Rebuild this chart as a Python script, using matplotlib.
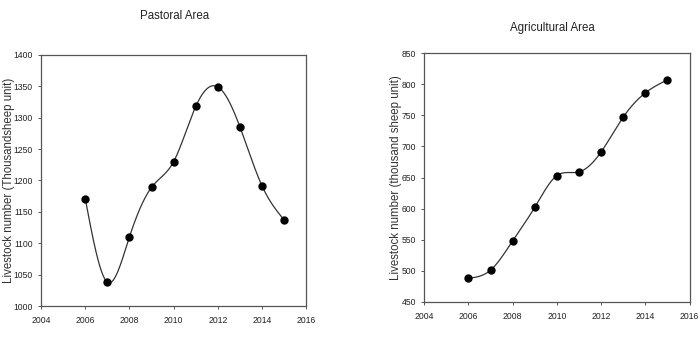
import numpy as np
import matplotlib
matplotlib.use("Agg")
import matplotlib.pyplot as plt

plt.rcParams['font.family'] = ['Liberation Sans', 'DejaVu Sans']

years = [2006, 2007, 2008, 2009, 2010, 2011, 2012, 2013, 2014, 2015]
pastoral = [1171, 1038, 1110, 1189, 1230, 1318, 1349, 1285, 1191, 1137]
agricultural = [488, 501, 548, 602, 653, 659, 691, 747, 786, 807]
x_ticks = [2004, 2006, 2008, 2010, 2012, 2014, 2016]
pastoral_yticks = [1000, 1050, 1100, 1150, 1200, 1250, 1300, 1350, 1400]
agri_yticks = [450, 500, 550, 600, 650, 700, 750, 800, 850]


def natural_spline(x, y, n=400):
    x = np.asarray(x, float)
    y = np.asarray(y, float)
    m = len(x)
    h = np.diff(x)
    A = np.zeros((m, m))
    b = np.zeros(m)
    A[0, 0] = 1
    A[-1, -1] = 1
    for i in range(1, m - 1):
        A[i, i - 1] = h[i - 1]
        A[i, i] = 2 * (h[i - 1] + h[i])
        A[i, i + 1] = h[i]
        b[i] = 6 * ((y[i + 1] - y[i]) / h[i] - (y[i] - y[i - 1]) / h[i - 1])
    M = np.linalg.solve(A, b)
    xs = np.linspace(x[0], x[-1], n)
    idx = np.clip(np.searchsorted(x, xs) - 1, 0, m - 2)
    x0, x1 = x[idx], x[idx + 1]
    hh = x1 - x0
    t0 = x1 - xs
    t1 = xs - x0
    ys = (M[idx] * t0 ** 3 + M[idx + 1] * t1 ** 3) / (6 * hh) \
        + (y[idx] / hh - M[idx] * hh / 6) * t0 \
        + (y[idx + 1] / hh - M[idx + 1] * hh / 6) * t1
    return xs, ys


fig = plt.figure(figsize=(7, 3.45), dpi=100)
ax1 = fig.add_axes([0.0586, 0.113, 0.379, 0.728])
ax2 = fig.add_axes([0.606, 0.125, 0.379, 0.721])

specs = [
    (ax1, pastoral, pastoral_yticks, 'Livestock number (Thousandsheep unit)', -0.098),
    (ax2, agricultural, agri_yticks, 'Livestock number (thousand sheep unit)', -0.085),
]
for ax, vals, yt, ylab, lx in specs:
    xs, ys = natural_spline(years, vals)
    ax.plot(xs, ys, color='#333333', lw=0.9)
    ax.plot(years, vals, 'o', color='black', ms=5)
    ax.set_xlim(x_ticks[0], x_ticks[-1])
    ax.set_ylim(yt[0], yt[-1])
    ax.set_xticks(x_ticks)
    ax.set_yticks(yt)
    ax.tick_params(labelsize=6.2, length=2.5, width=0.7, direction='out', colors='#555555', labelcolor='#222222')
    ax.tick_params(axis='x', pad=5)
    for s in ax.spines.values():
        s.set_color('#555555')
        s.set_linewidth(0.9)
    ax.set_ylabel(ylab, fontsize=8.3, color='#333333')
    ax.yaxis.set_label_coords(lx, 0.5)

fig.text(0.249, 0.955, 'Pastoral Area', ha='center', va='center', fontsize=8.3, color='#222222')
fig.text(0.789, 0.918, 'Agricultural Area', ha='center', va='center', fontsize=8.3, color='#222222')

fig.savefig('out.png', dpi=100)
